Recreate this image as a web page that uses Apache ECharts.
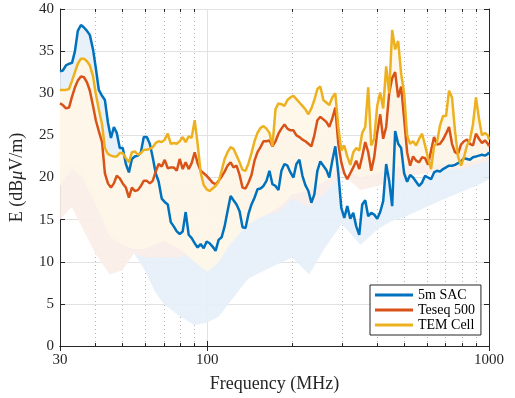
<!DOCTYPE html>
<html><head><meta charset="utf-8">
<script src="https://cdn.jsdelivr.net/npm/echarts@6/dist/echarts.min.js"></script>
<style>html,body{margin:0;padding:0;background:#fff}#c{width:515px;height:398px}</style>
</head><body><div id="c"></div>
<script>
const freq = [30.0,30.7,31.5,32.3,33.1,33.9,34.7,35.6,36.5,37.4,
38.3,39.3,40.2,41.2,42.3,43.3,44.4,45.5,46.6,47.7,
48.9,50.1,51.4,52.7,54.0,55.3,56.7,58.1,59.5,61.0,
62.5,64.0,65.6,67.2,68.9,70.6,72.4,74.2,76.0,77.9,
79.8,81.8,83.8,85.9,88.0,90.2,92.4,94.7,97.1,99.5,
101.9,104.4,107.0,109.7,112.4,115.2,118.0,121.0,123.9,127.0,
130.2,133.4,136.7,140.1,143.5,147.1,150.7,154.5,158.3,162.2,
166.2,170.3,174.6,178.9,183.3,187.9,192.5,197.3,202.2,207.2,
212.3,217.6,222.9,228.5,234.1,239.9,245.9,251.9,258.2,264.6,
271.1,277.8,284.7,291.8,299.0,306.4,314.0,321.8,329.7,337.9,
346.3,354.8,363.6,372.6,381.9,391.3,401.0,410.9,421.1,431.5,
442.2,453.2,464.4,475.9,487.7,499.7,512.1,524.8,537.8,551.1,
564.8,578.7,593.1,607.8,622.8,638.2,654.0,670.2,686.8,703.8,
721.3,739.1,757.4,776.2,795.4,815.1,835.3,856.0,877.1,898.9,
921.1,943.9,967.3,991.2,1000];

const sac = [32.6,32.7,33.3,33.5,33.6,35.0,37.4,38.1,37.8,37.4,
36.9,35.2,33.0,30.4,29.7,29.2,26.5,24.7,26.0,25.3,
23.5,23.5,21.6,20.6,22.2,22.5,22.6,23.0,24.8,24.8,
24.0,22.4,20.5,19.5,17.5,17.1,16.8,14.7,14.2,13.6,
13.3,13.6,15.9,13.2,12.8,12.2,11.7,12.1,11.6,12.4,
12.2,11.8,11.3,12.6,12.9,14.2,16.0,17.8,17.3,16.8,
16.0,14.1,14.0,15.7,16.8,17.6,18.6,18.7,19.0,19.6,
20.8,19.2,19.0,18.5,20.8,21.6,21.4,20.6,20.0,21.6,
22.1,20.2,19.1,18.4,17.0,18.0,20.8,21.9,21.4,20.9,
20.0,22.0,23.7,20.5,16.4,15.2,16.6,15.1,15.8,14.2,
13.2,16.8,17.3,15.4,15.8,15.6,15.1,15.9,17.2,21.6,
19.6,16.6,25.5,24.0,23.5,20.5,19.5,20.3,20.0,19.5,
19.0,19.4,20.2,20.0,19.8,20.6,20.8,20.7,21.0,21.2,
21.4,21.4,21.5,21.7,21.9,22.3,22.2,22.1,22.4,22.5,
22.6,22.7,22.6,22.8,23.0];

const teseq = [28.8,28.6,28.2,28.3,29.6,30.7,31.5,32.0,31.9,31.3,
30.3,28.5,26.8,25.5,24.2,20.5,19.3,18.8,19.3,20.2,
19.9,19.3,18.8,17.6,18.8,18.4,18.5,19.0,19.6,19.6,
19.3,19.6,20.7,21.6,21.3,22.1,21.1,21.2,21.2,20.8,
22.2,21.0,21.8,21.0,21.7,23.0,21.7,20.8,20.5,20.2,
19.8,19.4,19.2,19.6,20.1,20.7,21.4,21.8,21.2,21.4,
20.3,18.8,18.7,19.4,20.3,22.0,23.0,23.6,24.3,24.3,
24.4,23.7,24.3,25.2,25.8,26.3,25.8,25.6,25.6,25.0,
24.8,24.5,24.3,24.0,23.7,25.0,26.8,27.2,26.9,26.6,
26.0,27.0,28.3,24.0,21.8,20.5,19.8,20.5,21.2,22.0,
21.0,22.5,24.2,23.0,20.8,22.4,25.3,27.5,24.6,26.0,
30.0,31.8,32.5,29.5,30.8,27.0,23.0,21.4,22.5,22.0,
21.8,22.4,22.3,21.5,23.2,24.8,23.9,24.0,24.5,25.2,
26.0,24.0,23.0,22.8,23.9,24.3,24.5,24.0,23.8,25.2,
24.6,24.1,24.4,24.0,23.7];

const tem = [30.4,30.4,30.4,30.5,31.5,32.5,33.5,34.1,34.1,33.8,
33.3,32.0,29.9,28.1,26.3,23.5,22.8,22.6,22.5,22.5,
22.9,22.9,22.3,21.8,23.0,23.1,22.7,22.9,23.3,23.3,
23.4,23.6,24.1,24.3,24.2,24.5,25.2,24.0,24.1,24.0,
24.3,24.8,24.2,24.9,24.7,26.8,24.0,20.6,19.1,18.6,
18.4,18.7,19.0,19.5,20.8,22.2,23.0,23.6,23.4,22.6,
21.8,20.9,20.8,21.7,22.9,24.3,25.3,25.9,26.1,25.8,
25.3,23.7,28.1,28.8,28.7,28.5,29.2,29.5,29.7,29.3,
28.9,28.5,28.1,27.5,28.2,29.2,30.5,30.8,29.2,28.9,
28.6,29.5,30.0,26.0,23.2,23.8,22.5,21.5,23.0,23.5,
23.2,25.3,26.0,30.7,23.8,24.6,28.5,30.1,28.2,33.2,
30.0,37.5,35.2,36.2,32.3,30.0,25.0,24.0,24.3,23.8,
24.6,25.2,23.8,22.3,21.0,23.7,24.2,26.2,27.3,27.3,
30.3,29.5,25.5,22.5,21.4,22.4,23.8,24.5,26.3,29.5,
27.0,25.0,25.3,25.0,24.5];

const bandFreq = [30,33,36,40,45,50,55,60,65,70,80,90,100,110,120,140,160,180,200,230,260,300,350,400,450,500,600,700,800,900,1000];
const sacLow   = [21,22,21,18,14,12,11,9,6.5,5,3.5,2.5,2.8,3.5,5.2,8,9,9.8,10.5,8.5,11.5,14.5,12,13.8,14.8,15.3,16.5,17.5,18.3,19.0,19.8];
const teseqLow = [15,16.5,14,11,8.5,9,11,10.5,10.5,10.5,10.5,11.5,12.5,12.5,14,15,15.5,16,17.5,16.5,18,20.5,18.5,19,19.5,20,20.5,21,21,21.5,22];
const temLow   = [19,21,20,17,13,12,11.5,11.5,12,12.5,11.5,10,8.8,10,12,14.5,15.5,16.5,18,18.5,19.5,21.5,20,20.5,21,21.5,21.5,21.5,21.5,22,22.5];

const minorFreq = [40,50,60,70,80,90,200,300,400,500,600,700,800,900];
const names = ['5m SAC','Teseq 500','TEM Cell'];
const colors = ['#0072BD','#D95319','#EDB120'];
const bandColors = ['#E6F0F9','#FBEEE8','#FEF7E8'];
const FONT = 'Liberation Serif';
const AX = '#262626';

function pairs(xs, ys){ return xs.map((x,i)=>[x, ys[i]]); }

function bandSeries(vals, low, color, z){
  return {type:'custom', silent:true, z:z, data:[[100,20]], clip:true,
    renderItem:(params, api)=>{
      const pts=[];
      for(let i=0;i<freq.length;i++) pts.push(api.coord([freq[i], vals[i]]));
      for(let j=low.length-1;j>=0;j--) pts.push(api.coord([bandFreq[j], low[j]]));
      return {type:'polygon', shape:{points:pts}, style:{fill:color, opacity:0.92}};
    }};
}
function lineSeries(i, vals){
  return {name:names[i], type:'line', data:pairs(freq, vals), showSymbol:false, symbol:'none',
    z:5, color:colors[i], itemStyle:{color:colors[i]}, lineStyle:{color:colors[i], width:2.5}};
}

const chart = echarts.init(document.getElementById('c'), null, {renderer:'canvas'});
chart.setOption({
  animation:false,
  grid:{left:59, top:9, width:430, height:338, containLabel:false},
  legend:{data:names, orient:'vertical', left:370, top:285, icon:'rect', itemWidth:38, itemHeight:3,
    itemGap:1, padding:[3,6,3,5], backgroundColor:'#fff', borderColor:AX, borderWidth:1, borderRadius:0,
    textStyle:{fontFamily:FONT, fontSize:14, color:'#000', padding:[0,0,0,0]}},
  xAxis:[
    {type:'log', logBase:10, min:30, max:1000, position:'bottom',
     axisLine:{show:true, lineStyle:{color:AX, width:1}},
     axisTick:{show:true, inside:true, length:5, lineStyle:{color:AX}},
     axisLabel:{fontFamily:FONT, fontSize:15, color:AX, margin:7, showMinLabel:true, showMaxLabel:true,
       formatter:v=>String(Math.round(v))},
     splitLine:{show:true, lineStyle:{color:'#e2e2e2', width:1}},
     name:'Frequency (MHz)', nameLocation:'middle', nameGap:29,
     nameTextStyle:{fontFamily:FONT, fontSize:18, color:AX}},
    {type:'log', logBase:10, min:30, max:1000, position:'top',
     axisLine:{show:true, lineStyle:{color:AX, width:1}},
     axisTick:{show:true, inside:true, length:5, lineStyle:{color:AX}},
     axisLabel:{show:false}, splitLine:{show:false}}
  ],
  yAxis:[
    {type:'value', min:0, max:40, interval:5, position:'left',
     axisLine:{show:true, lineStyle:{color:AX, width:1}},
     axisTick:{show:true, inside:true, length:5, lineStyle:{color:AX}},
     axisLabel:{fontFamily:FONT, fontSize:15, color:AX, margin:6},
     splitLine:{show:true, lineStyle:{color:'#e2e2e2', width:1}},
     name:'E (dB{i|μ}V/m)', nameLocation:'middle', nameGap:34,
     nameTextStyle:{fontFamily:FONT, fontSize:18, color:AX,
       rich:{i:{fontFamily:FONT, fontSize:18, fontStyle:'italic', color:AX}}}},
    {type:'value', min:0, max:40, interval:5, position:'right',
     axisLine:{show:true, lineStyle:{color:AX, width:1}},
     axisTick:{show:true, inside:true, length:5, lineStyle:{color:AX}},
     axisLabel:{show:false}, splitLine:{show:false}}
  ],
  series:[
    {type:'custom', silent:true, z:1, data:minorFreq.map(f=>[f,0]),
     renderItem:(params, api)=>{
       const b = api.coord([api.value(0), 0]); const t = api.coord([api.value(0), 40]);
       const x = Math.round(b[0])+0.5;
       return {type:'line', shape:{x1:x,y1:t[1],x2:x,y2:b[1]}, style:{stroke:'#b9b9b9', lineWidth:1, lineDash:[1,3]}};
     }},
    bandSeries(sac, sacLow, bandColors[0], 2),
    bandSeries(teseq, teseqLow, bandColors[1], 3),
    bandSeries(tem, temLow, bandColors[2], 4),
    lineSeries(0, sac),
    lineSeries(1, teseq),
    lineSeries(2, tem),
    {type:'custom', silent:true, z:6, data:minorFreq.map(f=>[f,0]),
     renderItem:(params, api)=>{
       const b = api.coord([api.value(0), 0]); const t = api.coord([api.value(0), 40]);
       const x = Math.round(b[0])+0.5;
       return {type:'group', children:[
         {type:'line', shape:{x1:x,y1:b[1],x2:x,y2:b[1]-3}, style:{stroke:AX, lineWidth:1}},
         {type:'line', shape:{x1:x,y1:t[1],x2:x,y2:t[1]+3}, style:{stroke:AX, lineWidth:1}}
       ]};
     }}
  ]
});
</script>
</body></html>
